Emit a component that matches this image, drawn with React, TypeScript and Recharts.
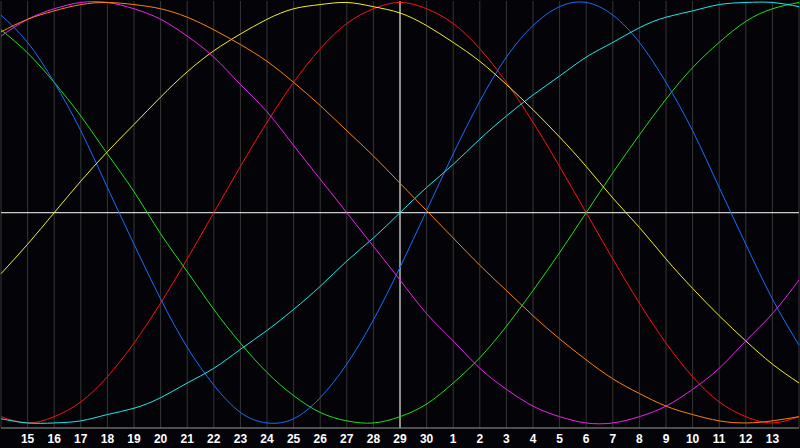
import React from 'react'
import { LineChart, Line, XAxis, YAxis, CartesianGrid, ReferenceLine } from 'recharts'

// day labels, index 0 = the 14th, index 15 = today (29th)
const dayLabels = ['14', '15', '16', '17', '18', '19', '20', '21', '22', '23', '24', '25', '26', '27', '28', '29', '30',
  '1', '2', '3', '4', '5', '6', '7', '8', '9', '10', '11', '12', '13', '14']
const dayTicks = [1, 2, 3, 4, 5, 6, 7, 8, 9, 10, 11, 12, 13, 14, 15, 16, 17, 18, 19, 20, 21, 22, 23, 24, 25, 26, 27, 28, 29]

const physical = [94, 81, 62, 39, 12, -15, -41, -64, -82, -95, -100, -98, -88, -72, -51, -26, 1, 28, 53, 74, 89, 98, 100, 94, 81, 62, 39, 12, -15, -41, -63]
const emotional = [-97, -100, -97, -90, -78, -62, -43, -22, 0, 22, 43, 62, 78, 90, 97, 100, 97, 90, 78, 62, 43, 22, 0, -22, -43, -62, -78, -90, -97, -100, -97]
const intellectual = [87, 76, 62, 46, 28, 10, -10, -28, -46, -62, -76, -87, -95, -99, -100, -97, -91, -81, -69, -54, -37, -19, 0, 19, 37, 54, 69, 81, 91, 97, 100]
const intuitive = [84, 92, 97, 100, 100, 97, 92, 84, 74, 61, 48, 32, 16, 0, -16, -32, -48, -61, -74, -84, -92, -97, -100, -100, -97, -92, -84, -74, -61, -48, -32]
const aesthetic = [-29, -15, 0, 15, 29, 42, 55, 67, 77, 85, 92, 97, 99, 100, 98, 95, 89, 81, 72, 61, 49, 36, 22, 7, -7, -22, -36, -49, -61, -72, -81]
const awareness = [86, 92, 96, 99, 100, 99, 97, 93, 87, 80, 72, 62, 51, 39, 27, 14, 1, -12, -25, -37, -49, -60, -70, -79, -86, -92, -96, -99, -100, -99, -97]
const spiritual = [-98, -100, -100, -99, -96, -93, -88, -81, -74, -65, -56, -46, -35, -23, -12, 0, 12, 23, 35, 46, 56, 65, 74, 81, 88, 93, 96, 99, 100, 100, 98]

const data = dayLabels.map((_, i) => ({
  i,
  physical: physical[i],
  emotional: emotional[i],
  intellectual: intellectual[i],
  intuitive: intuitive[i],
  aesthetic: aesthetic[i],
  awareness: awareness[i],
  spiritual: spiritual[i],
}))

const series = [
  { key: 'emotional', color: '#ff1010' },
  { key: 'intellectual', color: '#20e020' },
  { key: 'physical', color: '#1a6cff' },
  { key: 'spiritual', color: '#20e8e8' },
  { key: 'aesthetic', color: '#f0f020' },
  { key: 'intuitive', color: '#f020f0' },
  { key: 'awareness', color: '#ff8010' },
]

const yDomain = [-102.4, 100.7]
const frame = '#9a9a9a'

export default function App() {
  return (
    <div style={{ position: 'absolute', left: 0, top: 0, width: 800, height: 448, background: '#040408' }}>
      <LineChart width={800} height={448} data={data} margin={{ top: 1, right: 1, left: 1, bottom: 0 }}>
        <CartesianGrid horizontal={false} stroke="#363636" />
        <XAxis
          dataKey="i"
          type="number"
          domain={[0, 30]}
          ticks={dayTicks}
          interval={0}
          tickFormatter={(i: number) => dayLabels[i]}
          height={20}
          tickLine={false}
          tickSize={4}
          tickMargin={2}
          axisLine={{ stroke: frame }}
          tick={{ fill: '#ffffff', fontSize: 12, fontWeight: 'bold', fontFamily: 'Liberation Sans, Arial, sans-serif' }}
        />
        <XAxis xAxisId="top" orientation="top" dataKey="i" type="number" domain={[0, 30]} height={0} tick={false} tickLine={false} axisLine={{ stroke: frame }} />
        <YAxis type="number" domain={yDomain} width={0} tick={false} tickLine={false} axisLine={{ stroke: frame }} />
        <YAxis yAxisId="right" orientation="right" type="number" domain={yDomain} width={0} tick={false} tickLine={false} axisLine={{ stroke: frame }} />
        <ReferenceLine y={0} stroke="#ffffff" />
        <ReferenceLine x={15} stroke="#ffffff" />
        {series.map(s => (
          <Line
            key={s.key}
            type="natural"
            dataKey={s.key}
            stroke={s.color}
            strokeWidth={1}
            dot={false}
            activeDot={false}
            isAnimationActive={false}
          />
        ))}
      </LineChart>
    </div>
  )
}
